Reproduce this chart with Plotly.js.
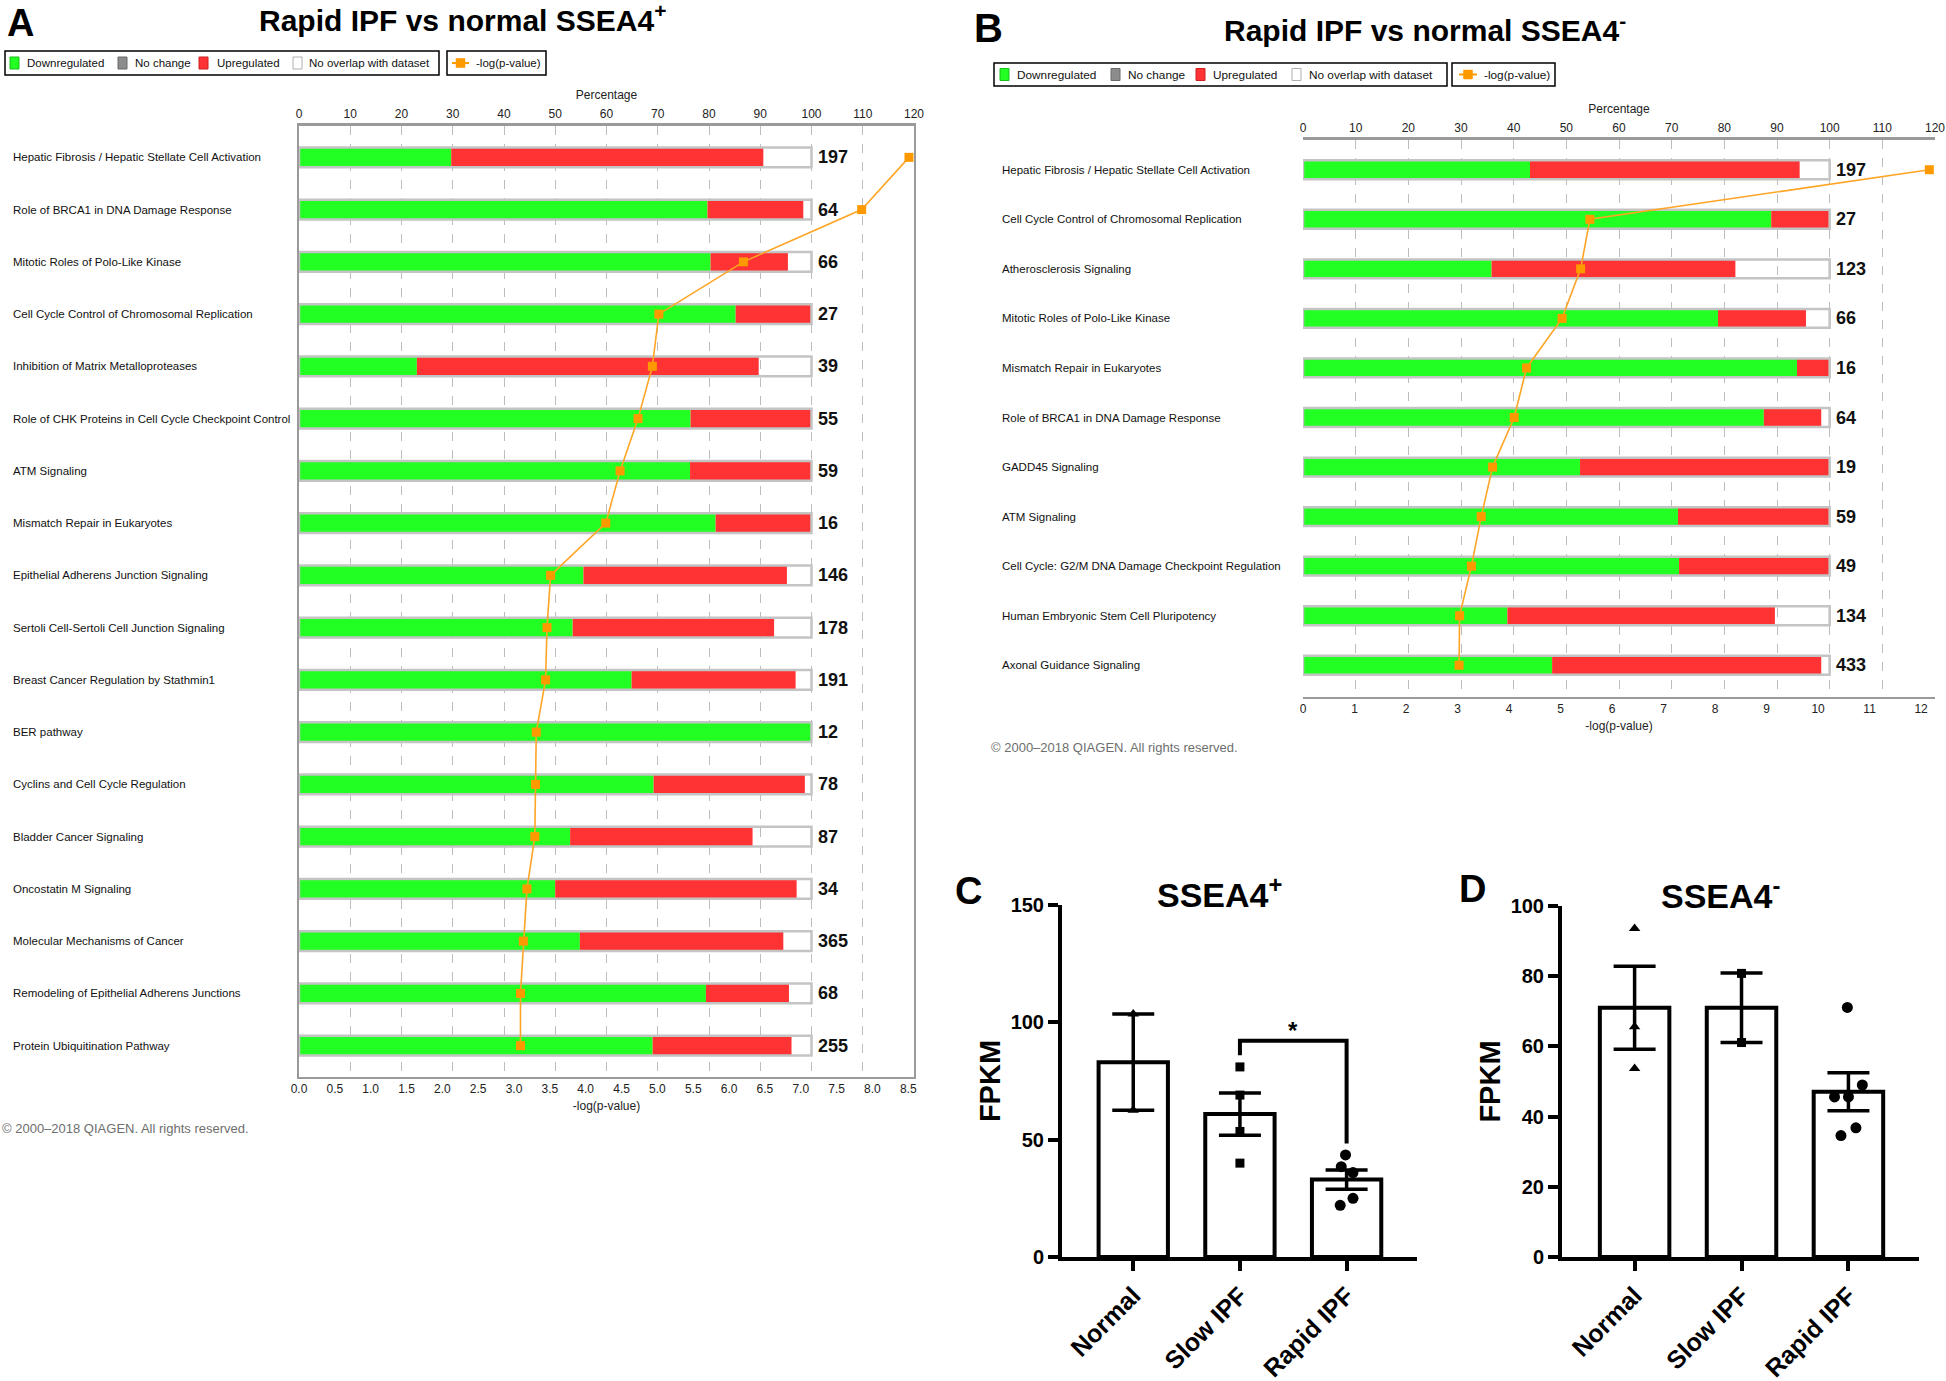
<!DOCTYPE html>
<html><head><meta charset="utf-8">
<script src="https://cdn.plot.ly/plotly-3.0.1.min.js"></script>
<style>html,body{margin:0;padding:0;background:#fff}#chart{width:1946px;height:1381px}</style>
</head><body><div id="chart"></div>
<script>
// ---------- Panel A data ----------
const catsA = ["Hepatic Fibrosis / Hepatic Stellate Cell Activation","Role of BRCA1 in DNA Damage Response","Mitotic Roles of Polo-Like Kinase","Cell Cycle Control of Chromosomal Replication","Inhibition of Matrix Metalloproteases","Role of CHK Proteins in Cell Cycle Checkpoint Control","ATM Signaling","Mismatch Repair in Eukaryotes","Epithelial Adherens Junction Signaling","Sertoli Cell-Sertoli Cell Junction Signaling","Breast Cancer Regulation by Stathmin1","BER pathway","Cyclins and Cell Cycle Regulation","Bladder Cancer Signaling","Oncostatin M Signaling","Molecular Mechanisms of Cancer","Remodeling of Epithelial Adherens Junctions","Protein Ubiquitination Pathway"];
const downA = [29.7, 79.7, 80.3, 85.2, 23.0, 76.4, 76.3, 81.3, 55.5, 53.4, 64.9, 100, 69.2, 52.9, 50.0, 54.8, 79.4, 69.0];
const upA   = [60.9, 18.7, 15.1, 14.8, 66.7, 23.6, 23.7, 18.7, 39.7, 39.3, 32.0, 0, 29.5, 35.6, 47.1, 39.7, 16.2, 27.1];
const totalA = [197, 64, 66, 27, 39, 55, 59, 16, 146, 178, 191, 12, 78, 87, 34, 365, 68, 255];
const logpA = [8.51, 7.85, 6.20, 5.02, 4.93, 4.73, 4.48, 4.28, 3.51, 3.46, 3.44, 3.31, 3.30, 3.29, 3.18, 3.13, 3.09, 3.09];

// ---------- Panel B data ----------
const catsB = ["Hepatic Fibrosis / Hepatic Stellate Cell Activation","Cell Cycle Control of Chromosomal Replication","Atherosclerosis Signaling","Mitotic Roles of Polo-Like Kinase","Mismatch Repair in Eukaryotes","Role of BRCA1 in DNA Damage Response","GADD45 Signaling","ATM Signaling","Cell Cycle: G2/M DNA Damage Checkpoint Regulation","Human Embryonic Stem Cell Pluripotency","Axonal Guidance Signaling"];
const downB = [43.1, 88.9, 35.8, 78.8, 93.8, 87.5, 52.6, 71.2, 71.4, 38.8, 47.3];
const upB   = [51.2, 11.1, 46.3, 16.7, 6.2, 10.9, 47.4, 28.8, 28.6, 50.8, 51.1];
const totalB = [197, 27, 123, 66, 16, 64, 19, 59, 49, 134, 433];
const logpB = [12.16, 5.57, 5.39, 5.03, 4.34, 4.10, 3.68, 3.46, 3.27, 3.04, 3.03];

// ---------- Panel C / D data ----------
const groups = ["Normal", "Slow IPF", "Rapid IPF"];
const meanC = [83.0, 60.9, 33.0];
const semC  = [20.5, 9.0, 4.1];
const normalC = [103.5, 62.5];
const slowC = [81.0, 69.0, 53.5, 40.0];
const rapidC = [43.5, 38.5, 36.0, 25.0, 22.0];
const rapidCJitter = [-0.01, -0.05, 0.06, 0.06, -0.06];
const bracketC = {x: [1, 1, 2, 2], y: [86, 92.2, 92.2, 48.4]};

const meanD = [71.0, 71.0, 47.1];
const semD  = [11.8, 9.9, 5.4];
const normalD = [93.6, 65.6, 53.7];
const slowD = [80.8, 61.1];
const rapidD = [71.1, 49.0, 45.6, 45.6, 36.8, 34.6];
const rapidDJitter = [-0.01, 0.13, -0.13, 0.0, 0.07, -0.07];

// ---------- helpers ----------
const W = 1946, H = 1381;
const X = v => v / W, Y = v => 1 - v / H;
const F = "Liberation Sans, Arial, sans-serif";
const GREEN = "#22ff22", RED = "#ff3333", ORANGE = "#ff9900";
const annotations = [];
const shapes = [];

function ipaTraces(cats, down, up, total, logp, xp, xl, ya) {
  const idx = cats.map((_, i) => i);
  const full = cats.map(() => 100);
  total.forEach((t, i) => annotations.push({xref: xp, yref: ya, x: full[i], y: idx[i], xshift: 4, text: "<b>" + t + "</b>",
    showarrow: false, xanchor: "left", yanchor: "middle", font: {family: F, size: 18, color: "#111"}}));
  return [
    {type: "bar", orientation: "h", y: idx, x: down, base: 0, xaxis: xp, yaxis: ya, width: 0.38,
     marker: {color: GREEN, line: {width: 0}}, hoverinfo: "skip"},
    {type: "bar", orientation: "h", y: idx, x: up, base: down, xaxis: xp, yaxis: ya, width: 0.38,
     marker: {color: RED, line: {width: 0}}, hoverinfo: "skip"},
    {type: "bar", orientation: "h", y: idx, x: full, base: 0, xaxis: xp, yaxis: ya, width: 0.38,
     marker: {color: "rgba(0,0,0,0)", line: {color: "#c4c4c4", width: 2.5}}, hoverinfo: "skip"},
    {type: "scatter", mode: "lines+markers", x: logp, y: idx, xaxis: xl, yaxis: ya, cliponaxis: false,
     line: {color: "#ffa526", width: 1.6}, marker: {symbol: "square", size: 9, color: ORANGE}}
  ];
}

function barTraces(mean, sem, xa, ya) {
  return {type: "bar", x: [0, 1, 2], y: mean, width: 0.65, xaxis: xa, yaxis: ya,
    marker: {color: "white", line: {color: "black", width: 4}},
    error_y: {type: "data", array: sem, visible: true, color: "black", thickness: 3.5, width: 21}};
}
function pts(vals, xc, jitter, sym, size, xa, ya) {
  return {type: "scatter", mode: "markers", x: vals.map((_, i) => xc + (jitter ? jitter[i] : 0)), y: vals,
    xaxis: xa, yaxis: ya, cliponaxis: false, marker: {symbol: sym, size: size, color: "black"}};
}

const traces = [
  ...ipaTraces(catsA, downA, upA, totalA, logpA, "x", "x2", "y"),
  ...ipaTraces(catsB, downB, upB, totalB, logpB, "x3", "x4", "y2"),
  barTraces(meanC, semC, "x5", "y3"),
  pts(normalC, 0, null, "triangle-up", 10, "x5", "y3"),
  pts(slowC, 1, null, "square", 9, "x5", "y3"),
  pts(rapidC, 2, rapidCJitter, "circle", 11, "x5", "y3"),
  {type: "scatter", mode: "lines", x: bracketC.x, y: bracketC.y, xaxis: "x5", yaxis: "y3", cliponaxis: false,
   line: {color: "black", width: 4}},
  barTraces(meanD, semD, "x6", "y4"),
  pts(normalD, 0, null, "triangle-up", 10, "x6", "y4"),
  pts(slowD, 1, null, "square", 9, "x6", "y4"),
  pts(rapidD, 2, rapidDJitter, "circle", 11, "x6", "y4")
];

// ---------- axes ----------
const tickFontIPA = {family: F, size: 12, color: "#222"};
function pctAxis(dom, anchor) {
  return {domain: dom, anchor: anchor, side: "top", range: [0, 120], dtick: 10, tick0: 0, ticklabeloverflow: "allow",
    showgrid: true, gridcolor: "#bdbdbd", griddash: "dash", gridwidth: 1, zeroline: false,
    showline: true, linecolor: "#9a9a9a", linewidth: 3, ticks: "", tickfont: tickFontIPA,
    title: {text: "Percentage", font: {family: F, size: 12, color: "#222"}, standoff: 6}};
}
function logAxis(over, anchor, rng, dtick, fmt) {
  return {overlaying: over, anchor: anchor, side: "bottom", range: rng, dtick: dtick, tick0: 0, tickformat: fmt,
    ticklabeloverflow: "allow",
    showgrid: false, zeroline: false, showline: true, linecolor: "#9a9a9a", linewidth: 2, ticks: "",
    tickfont: tickFontIPA, title: {text: "-log(p-value)", font: {family: F, size: 12, color: "#222"}, standoff: 6}};
}
function ipaY(dom, rng) {
  return {domain: dom, range: rng, showticklabels: false, showgrid: false, zeroline: false, ticks: "",
    showline: true, mirror: true, linecolor: "#9a9a9a", linewidth: 2};
}
function catX(dom, anchor, rng) {
  return {domain: dom, anchor: anchor, range: rng, tickvals: [0, 1, 2], ticktext: groups, tickangle: -45,
    showgrid: false, zeroline: false, showline: true, linecolor: "black", linewidth: 4,
    ticks: "outside", ticklen: 10, tickwidth: 4, tickcolor: "black",
    tickfont: {family: F, size: 25, color: "black", weight: "bold"}};
}
function valY(dom, anchor, rng, dtick) {
  return {domain: dom, anchor: anchor, range: rng, dtick: dtick, showgrid: false, zeroline: false,
    showline: true, linecolor: "black", linewidth: 4, ticks: "outside", ticklen: 10, tickwidth: 4, tickcolor: "black",
    tickfont: {family: F, size: 20, color: "black", weight: "bold"},
    title: {text: "FPKM", font: {family: F, size: 29, color: "black", weight: "bold"}, standoff: 2}};
}

// ---------- annotations & shapes ----------
function txt(x, y, text, size, opts) {
  annotations.push(Object.assign({xref: "paper", yref: "paper", x: X(x), y: Y(y), text: text, showarrow: false,
    xanchor: "center", yanchor: "middle", font: {family: F, size: size, color: "black"}}, opts || {}));
}
catsA.forEach((c, i) => annotations.push({xref: "paper", yref: "y", x: X(11), y: i, text: c, showarrow: false,
  xanchor: "left", yanchor: "middle", font: {family: F, size: 11.5, color: "#111"}}));
catsB.forEach((c, i) => annotations.push({xref: "paper", yref: "y2", x: X(1000), y: i, text: c, showarrow: false,
  xanchor: "left", yanchor: "middle", font: {family: F, size: 11.5, color: "#111"}}));

txt(20, 23, "<b>A</b>", 38);
txt(462, 18, "<b>Rapid IPF vs normal SSEA4<sup>+</sup></b>", 30);
txt(988, 28, "<b>B</b>", 40);
txt(1425, 28, "<b>Rapid IPF vs normal SSEA4<sup>-</sup></b>", 30);
txt(968, 891, "<b>C</b>", 38);
txt(1219, 892, "<b>SSEA4<sup>+</sup></b>", 34);
txt(1472, 889, "<b>D</b>", 38);
txt(1720, 893, "<b>SSEA4<sup>-</sup></b>", 34);
txt(0, 1128, "© 2000–2018 QIAGEN. All rights reserved.", 13, {xanchor: "left", font: {family: F, size: 13, color: "#6e6e6e"}});
txt(989, 747, "© 2000–2018 QIAGEN. All rights reserved.", 13, {xanchor: "left", font: {family: F, size: 13, color: "#6e6e6e"}});
annotations.push({xref: "x5", yref: "y3", x: 1.5, y: 96.5, text: "<b>*</b>", showarrow: false,
  font: {family: F, size: 24, color: "black"}});

function rect(x0, y0, x1, y1, fill, line, lw) {
  shapes.push({type: "rect", xref: "paper", yref: "paper", x0: X(x0), x1: X(x1), y0: Y(y0), y1: Y(y1),
    fillcolor: fill, line: {color: line, width: lw}});
}
function legend(b1, b2, y0, y1, sw, tx, lineX, fs) {
  const yc = (y0 + y1) / 2;
  rect(b1[0], y0, b1[1], y1, "rgba(0,0,0,0)", "black", 1.5);
  rect(b2[0], y0, b2[1], y1, "rgba(0,0,0,0)", "black", 1.5);
  const cols = [[GREEN, "#1bbf1b"], ["#8c8c8c", "#6a6a6a"], [RED, "#c82020"], ["#ffffff", "#b0b0b0"]];
  const labs = ["Downregulated", "No change", "Upregulated", "No overlap with dataset"];
  sw.forEach((s, i) => {
    rect(s, yc - 6, s + 9, yc + 6, cols[i][0], cols[i][1], 1);
    txt(tx[i], yc, labs[i], fs, {xanchor: "left", font: {family: F, size: fs, color: "#111"}});
  });
  shapes.push({type: "line", xref: "paper", yref: "paper", x0: X(lineX[0]), x1: X(lineX[1]), y0: Y(yc), y1: Y(yc),
    line: {color: ORANGE, width: 2}});
  const m = (lineX[0] + lineX[1]) / 2;
  rect(m - 4.5, yc - 4.5, m + 4.5, yc + 4.5, ORANGE, ORANGE, 0.5);
  txt(lineX[1] + 5, yc, "-log(p-value)", fs, {xanchor: "left", font: {family: F, size: fs, color: "#111"}});
}
legend([5, 439], [447, 546], 51, 75, [10, 118, 199, 293], [25, 133, 215, 307], [452, 469], 11.5);
legend([994, 1447], [1452, 1555], 63, 86, [1000, 1111, 1196, 1292], [1015, 1126, 1211, 1307], [1459, 1477], 11.8);

const layout = {
  width: W, height: H, margin: {l: 0, r: 0, t: 0, b: 0}, paper_bgcolor: "white", plot_bgcolor: "rgba(0,0,0,0)",
  showlegend: false, barmode: "overlay", font: {family: F},
  xaxis: pctAxis([X(299), X(914)], "y"),
  xaxis2: logAxis("x", "y", [0, 8.58], 0.5, ".1f"),
  yaxis: ipaY([Y(1077), Y(126)], [17.6, -0.6]),
  xaxis3: pctAxis([X(1303), X(1935)], "y2"),
  xaxis4: logAxis("x3", "y2", [0, 12.27], 1, "d"),
  yaxis2: ipaY([Y(697), Y(140)], [10.64, -0.6]),
  xaxis5: catX([X(1062), X(1417)], "y3", [-0.668, 2.66]),
  yaxis3: valY([Y(1257), Y(905)], "x5", [0, 150], 50),
  xaxis6: catX([X(1562), X(1919)], "y4", [-0.679, 2.66]),
  yaxis4: valY([Y(1257), Y(906)], "x6", [0, 100], 20),
  annotations: annotations, shapes: shapes
};

Plotly.newPlot("chart", traces, layout, {staticPlot: true});
</script></body></html>
